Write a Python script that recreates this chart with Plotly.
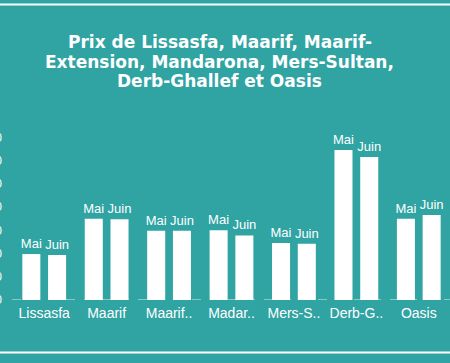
import plotly.graph_objects as go

categories = ["Lissasfa", "Maarif", "Maarif..", "Madar..", "Mers-S..", "Derb-G..", "Oasis"]
mai = [9900, 17500, 14900, 15000, 12300, 32300, 17500]
juin = [9700, 17400, 14900, 13900, 12100, 30800, 18300]
series_names = ["Mai", "Juin"]
y_ticks = [0, 5000, 10000, 15000, 20000, 25000, 30000, 35000]
title_lines = ["Prix de Lissasfa, Maarif, Maarif-",
               "Extension, Mandarona, Mers-Sultan,",
               "Derb-Ghallef et Oasis"]

BG = "#30a3a3"
FONT = "Liberation Sans, Arial, sans-serif"

# plot area in pixels: top 125, bottom 300, left 13, right 450
T, B, L = 125, 300, 13
PH = B - T
PW = 450 - L


def py(p):
    return (B - p) / PH


def px(p):
    return (p - L) / PW


fig = go.Figure()
for name, vals in zip(series_names, [mai, juin]):
    fig.add_trace(go.Bar(
        x=categories, y=vals, name=name,
        marker=dict(color="white", line=dict(width=0)),
        text=[name] * len(vals), textposition="outside",
        textfont=dict(color="white", size=13, family=FONT),
        constraintext="none",
        cliponaxis=False,
    ))

annotations = []
for i, line in enumerate(title_lines):
    annotations.append(dict(
        text=line, xref="paper", yref="paper", x=px(219.5), y=py(41.7 + 19.8 * i),
        xanchor="center", yanchor="middle", showarrow=False, borderpad=0,
        font=dict(family="DejaVu Sans, sans-serif", size=17, color="white", weight="bold"),
    ))

fig.update_layout(
    width=450, height=363,
    paper_bgcolor=BG, plot_bgcolor=BG,
    margin=dict(l=L, r=0, t=T, b=363 - B, autoexpand=False),
    barmode="group", bargap=0.175, bargroupgap=0.3,
    showlegend=False, hovermode=False,
    annotations=annotations,
    xaxis=dict(showgrid=False, zeroline=False, showline=False, ticks="", ticklabelstandoff=3,
               tickfont=dict(color="white", size=14, family=FONT), automargin=False),
    yaxis=dict(range=[0, 37700], tickvals=y_ticks, tickformat=",d", showgrid=False, zeroline=False,
               showline=False, ticks="", ticklabelstandoff=10,
               tickfont=dict(color="white", size=12, family=FONT), automargin=False),
    shapes=[
        dict(type="line", xref="paper", yref="y", x0=px(12), x1=1, y0=0, y1=0,
             line=dict(color="rgba(255,255,255,0.55)", width=1.5, dash="dash"), layer="below"),
        dict(type="line", xref="paper", yref="paper", x0=-0.1, x1=1.1, y0=py(4.5), y1=py(4.5),
             line=dict(color="white", width=2)),
        dict(type="line", xref="paper", yref="paper", x0=-0.1, x1=1.1, y0=py(352.5), y1=py(352.5),
             line=dict(color="white", width=2)),
    ],
)

fig.write_html("out.html", config={"displayModeBar": False},
               post_script="document.body.style.margin='0';document.body.style.overflow='hidden';")
